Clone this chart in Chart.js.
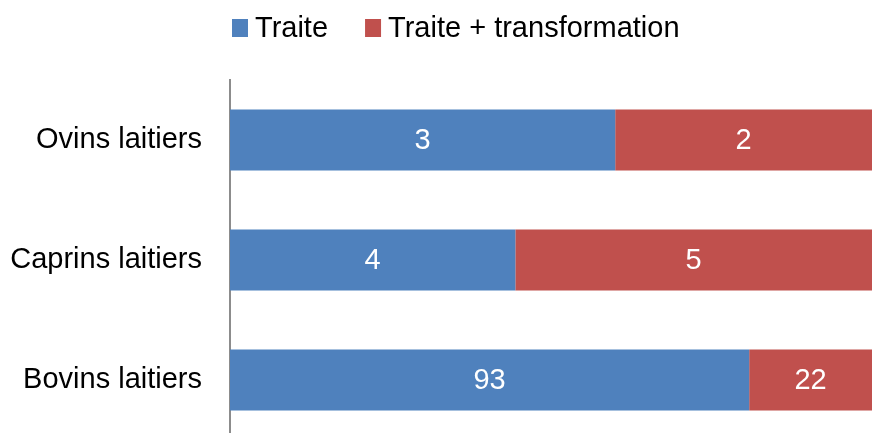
<!DOCTYPE html>
<html>
<head>
<meta charset="utf-8">
<script src="https://cdn.jsdelivr.net/npm/chart.js@4"></script>
<style>
  html, body { margin: 0; padding: 0; background: #fff; overflow: hidden; }
  canvas { display: block; }
</style>
</head>
<body>
<!-- a bit taller than the window: the last row sits close to the bottom edge -->
<canvas id="chart" width="872" height="440"></canvas>
<script>
const categories = ["Ovins laitiers", "Caprins laitiers", "Bovins laitiers"];
const traite = [3, 4, 93];
const traiteTransfo = [2, 5, 22];
const seriesNames = ["Traite", "Traite + transformation"];
const colors = ["#4f81bd", "#c0504d"];

const FONT = "'Liberation Sans', Arial, sans-serif";
const FONT_SIZE = 29;

// each bar is shown as a share of its row total, labelled with the raw count
const totals = categories.map((_, i) => traite[i] + traiteTransfo[i]);
const share = (arr) => arr.map((v, i) => (v / totals[i]) * 100);
const rawValues = [traite, traiteTransfo];

const valueLabels = {
  id: "valueLabels",
  afterDatasetsDraw(chart) {
    const ctx = chart.ctx;
    ctx.save();
    ctx.font = FONT_SIZE + "px " + FONT;
    ctx.fillStyle = "#fff";
    ctx.textAlign = "center";
    ctx.textBaseline = "middle";
    chart.data.datasets.forEach((ds, di) => {
      chart.getDatasetMeta(di).data.forEach((bar, i) => {
        const cx = (bar.x + bar.base) / 2;
        ctx.fillText(String(rawValues[di][i]), cx, bar.y + 1);
      });
    });
    ctx.restore();
  },
};

// legend with tight box/text spacing
const topLegend = {
  id: "topLegend",
  afterDraw(chart) {
    const ctx = chart.ctx;
    ctx.save();
    ctx.font = FONT_SIZE + "px " + FONT;
    ctx.textBaseline = "alphabetic";
    let x = 232;
    chart.data.datasets.forEach((ds) => {
      ctx.fillStyle = ds.backgroundColor;
      ctx.fillRect(x, 19, 16, 18);
      ctx.fillStyle = "#000";
      ctx.fillText(ds.label, x + 23, 37);
      x += 23 + ctx.measureText(ds.label).width + 37;
    });
    ctx.restore();
  },
};

new Chart(document.getElementById("chart"), {
  type: "bar",
  data: {
    labels: categories,
    datasets: [
      { label: seriesNames[0], data: share(traite), backgroundColor: colors[0] },
      { label: seriesNames[1], data: share(traiteTransfo), backgroundColor: colors[1] },
    ],
  },
  options: {
    indexAxis: "y",
    responsive: false,
    animation: false,
    categoryPercentage: 0.51,
    barPercentage: 1,
    layout: { padding: { top: 80, bottom: 0, left: 0, right: 0 } },
    plugins: {
      legend: { display: false },
      tooltip: { enabled: false },
    },
    scales: {
      x: {
        stacked: true,
        min: 0,
        max: 100,
        display: false,
      },
      y: {
        stacked: true,
        grid: { display: false, drawTicks: false },
        border: { display: true, color: "#8c8c8c", width: 2 },
        ticks: {
          color: "#000",
          padding: 28,
          font: { family: FONT, size: FONT_SIZE },
        },
        afterFit: (scale) => {
          scale.width = 230;
          // tick padding shouldn't shrink the plot vertically
          scale.paddingTop = 0;
          scale.paddingBottom = 0;
        },
      },
    },
  },
  plugins: [valueLabels, topLegend],
});
</script>
</body>
</html>
